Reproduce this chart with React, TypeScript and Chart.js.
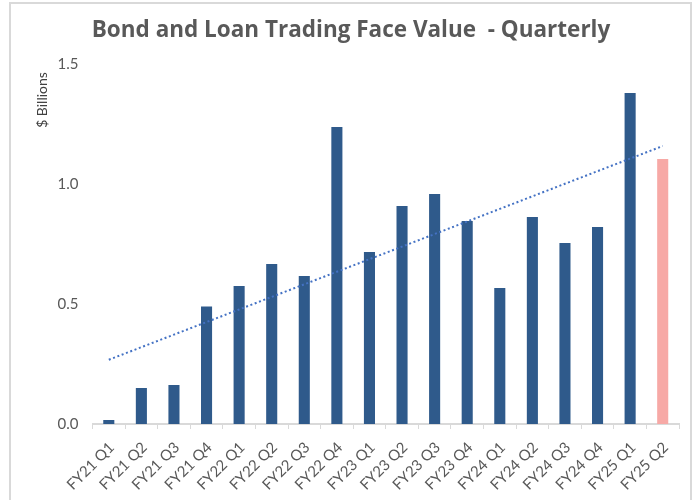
import React, { useEffect, useRef } from "react";
import { Chart, registerables } from "chart.js";

Chart.register(...registerables);

const categories = [
  "FY21 Q1", "FY21 Q2", "FY21 Q3", "FY21 Q4",
  "FY22 Q1", "FY22 Q2", "FY22 Q3", "FY22 Q4",
  "FY23 Q1", "FY23 Q2", "FY23 Q3", "FY23 Q4",
  "FY24 Q1", "FY24 Q2", "FY24 Q3", "FY24 Q4",
  "FY25 Q1", "FY25 Q2",
];
const faceValue = [
  0.017, 0.15, 0.163, 0.49,
  0.575, 0.667, 0.617, 1.2375,
  0.717, 0.908, 0.958, 0.846,
  0.567, 0.8625, 0.754, 0.821,
  1.379, 1.104,
];
const yTicks = [0, 0.5, 1.0, 1.5];
const titleText = "Bond and Loan Trading Face Value  - Quarterly";
const yTitle = "$ Billions";

const BLUE = "#2F5A8B";
const PINK = "#F7A9A6";
const TEXT = "#595959";
const AXIS = "#D9D9D9";
const TICK_FAMILY = "Lato, 'Open Sans', sans-serif";

function linearTrend(values: number[]): number[] {
  const n = values.length;
  const mx = (n - 1) / 2;
  const my = values.reduce((a, b) => a + b, 0) / n;
  let sxy = 0;
  let sxx = 0;
  values.forEach((v, i) => {
    sxy += (i - mx) * (v - my);
    sxx += (i - mx) * (i - mx);
  });
  const slope = sxy / sxx;
  const b = my - slope * mx;
  return values.map((_, i) => b + slope * i);
}

const textPlugin = {
  id: "customText",
  afterDraw(chart: any) {
    const ctx = chart.ctx;
    ctx.save();
    ctx.fillStyle = TEXT;
    ctx.font = "bold 22.5px 'Open Sans', Lato, sans-serif";
    ctx.textAlign = "center";
    ctx.textBaseline = "alphabetic";
    ctx.fillText(titleText, 351, 37);
    ctx.restore();

    // y axis title
    ctx.save();
    ctx.translate(42, 100);
    ctx.rotate(-Math.PI / 2);
    ctx.font = "14px " + TICK_FAMILY;
    ctx.fillStyle = "#404040";
    ctx.textAlign = "center";
    ctx.textBaseline = "middle";
    ctx.fillText(yTitle, 0, 0);
    ctx.restore();

    // x category labels at 45 degrees
    const xs = chart.scales.x;
    const baseY = xs.top + 21;
    categories.forEach((label, i) => {
      const x = xs.getPixelForTick(i);
      ctx.save();
      ctx.translate(x + 3, baseY);
      ctx.rotate(-Math.PI / 4);
      ctx.font = "15px " + TICK_FAMILY;
      ctx.fillStyle = TEXT;
      ctx.textAlign = "right";
      ctx.textBaseline = "middle";
      ctx.fillText(label, 0, 0);
      ctx.restore();
    });
  },
};

export default function App() {
  const ref = useRef<HTMLCanvasElement>(null);
  useEffect(() => {
    if (!ref.current) return;
    const colors = categories.map((_, i) => (i === categories.length - 1 ? PINK : BLUE));
    const chart = new Chart(ref.current, {
      type: "bar",
      data: {
        labels: categories,
        datasets: [
          {
            type: "line",
            label: "Trend",
            data: linearTrend(faceValue),
            borderColor: "#4472C4",
            borderWidth: 2,
            borderDash: [2, 2.6],
            borderCapStyle: "butt",
            pointRadius: 0,
            fill: false,
            order: 0,
          } as any,
          {
            type: "bar",
            label: "Face Value",
            data: faceValue,
            backgroundColor: colors,
            borderWidth: 0,
            categoryPercentage: 1,
            barPercentage: 0.34,
            order: 1,
          } as any,
        ],
      },
      options: {
        responsive: false,
        animation: false,
        maintainAspectRatio: false,
        layout: { padding: { left: 0, right: 20, top: 64, bottom: 0 } },
        plugins: {
          legend: { display: false },
          title: { display: false },
          tooltip: { enabled: false },
        },
        scales: {
          x: {
            offset: true,
            grid: {
              display: true,
              drawOnChartArea: false,
              drawTicks: true,
              tickLength: 5,
              color: AXIS,
              offset: true,
            },
            border: { display: true, color: AXIS, width: 2 },
            ticks: {
              display: false,
              autoSkip: false,
            },
            afterFit: (scale: any) => {
              scale.height = 76;
            },
          },
          y: {
            min: 0,
            max: 1.5,
            afterBuildTicks: (scale: any) => {
              scale.ticks = yTicks.map((v) => ({ value: v }));
            },
            grid: { display: false, drawTicks: false },
            border: { display: false },
            ticks: {
              color: TEXT,
              font: { family: TICK_FAMILY, size: 15 },
              padding: 14,
              callback: (v: any) => Number(v).toFixed(1),
            },
            afterFit: (scale: any) => {
              scale.width = 92.5;
            },
          },
        },
      },
      plugins: [textPlugin],
    });
    return () => chart.destroy();
  }, []);

  return (
    <div style={{ position: "fixed", left: 0, top: 0, width: 699, height: 500, background: "#fff", overflow: "hidden" }}>
      <div
        style={{
          position: "absolute",
          left: 9,
          top: 2,
          width: 683,
          height: 540,
          border: "2px solid #D9D9D9",
          boxSizing: "border-box",
        }}
      />
      <canvas ref={ref} width={699} height={500} style={{ position: "absolute", left: 0, top: 0 }} />
    </div>
  );
}
